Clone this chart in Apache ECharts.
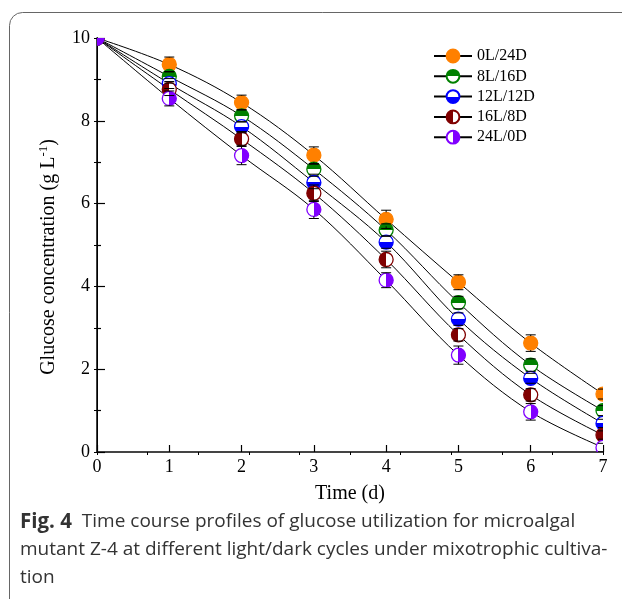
<!DOCTYPE html>
<html>
<head>
<meta charset="utf-8">
<script src="https://cdn.jsdelivr.net/npm/echarts@6/dist/echarts.min.js"></script>
<style>
  html, body { margin: 0; padding: 0; background: #fff; }
  #chart { width: 622px; height: 599px; }
</style>
</head>
<body>
<div id="chart"></div>
<script>
// time in days
const days = [0, 1, 2, 3, 4, 5, 6, 7];

// glucose (g/L), one array per light/dark cycle
const g0L24D  = [10, 9.36, 8.44, 7.17, 5.62, 4.10, 2.63, 1.40];
const g8L16D  = [10, 9.07, 8.12, 6.83, 5.36, 3.61, 2.10, 1.00];
const g12L12D = [10, 8.90, 7.86, 6.51, 5.07, 3.21, 1.78, 0.69];
const g16L8D  = [10, 8.76, 7.56, 6.25, 4.65, 2.83, 1.38, 0.41];
const g24L0D  = [10, 8.54, 7.16, 5.86, 4.15, 2.34, 0.97, 0.11];

// error bar half-widths
const e0L24D  = [0, 0.18, 0.18, 0.20, 0.22, 0.18, 0.20, 0.12];
const e8L16D  = [0, 0.12, 0.15, 0.12, 0.15, 0.15, 0.15, 0.12];
const e12L12D = [0, 0.12, 0.12, 0.15, 0.15, 0.15, 0.12, 0.10];
const e16L8D  = [0, 0.15, 0.15, 0.20, 0.20, 0.15, 0.15, 0.10];
const e24L0D  = [0, 0.18, 0.22, 0.22, 0.18, 0.22, 0.20, 0.10];

const names = ["0L/24D", "8L/16D", "12L/12D", "16L/8D", "24L/0D"];
const xTicks = [0, 1, 2, 3, 4, 5, 6, 7];
const yTicks = [0, 2, 4, 6, 8, 10];

const values = [g0L24D, g8L16D, g12L12D, g16L8D, g24L0D];
const errors = [e0L24D, e8L16D, e12L12D, e16L8D, e24L0D];
const colors = ["#ff8000", "#008000", "#0000ff", "#800000", "#8000ff"];
// which half is filled: full, top, bottom, left, right
const halves = ["full", "top", "bottom", "left", "right"];

const serif = "Liberation Serif";

function markerFill(color, half) {
  if (half === "full") return color;
  const dir = {
    top: [0, 0, 0, 1], bottom: [0, 1, 0, 0],
    left: [0, 0, 1, 0], right: [1, 0, 0, 0],
  }[half];
  return new echarts.graphic.LinearGradient(dir[0], dir[1], dir[2], dir[3], [
    { offset: 0, color: color },
    { offset: 0.5, color: color },
    { offset: 0.5, color: "#fff" },
    { offset: 1, color: "#fff" },
  ]);
}

const R = 7;

const series = [];

// fitted curves (also give the legend its icons)
values.forEach((vals, i) => {
  series.push({
    name: names[i],
    type: "line",
    data: days.map((d, k) => [d, vals[k]]),
    smooth: 0.35,
    showSymbol: false,
    symbol: "circle",
    symbolSize: 14,
    silent: true,
    z: 2,
    lineStyle: { color: "#000", width: 1 },
    itemStyle: { color: markerFill(colors[i], halves[i]), borderColor: colors[i], borderWidth: 1.3 },
  });
});

// markers, clipped at the frame
values.forEach((vals, i) => {
  series.push({
    type: "custom",
    clip: true,
    silent: true,
    z: 3,
    data: days.map((d, k) => [d, vals[k]]),
    renderItem(params, api) {
      const p = api.coord([api.value(0), api.value(1)]);
      return {
        type: "circle",
        shape: { cx: p[0], cy: p[1], r: R },
        style: { fill: markerFill(colors[i], halves[i]), stroke: colors[i], lineWidth: 1.3 },
      };
    },
  });
});

// error bars on top of the markers
values.forEach((vals, i) => {
  series.push({
    type: "custom",
    clip: true,
    silent: true,
    z: 4,
    data: days.map((d, k) => [d, vals[k], errors[i][k]]),
    renderItem(params, api) {
      const x = api.value(0), y = api.value(1), e = api.value(2);
      if (!e) return null;
      const c = api.coord([x, y]);
      const hi = api.coord([x, y + e]);
      const lo = api.coord([x, y - e]);
      const s = { stroke: "#000", lineWidth: 1 };
      const kids = [
        { type: "line", shape: { x1: c[0] - 5, y1: hi[1], x2: c[0] + 5, y2: hi[1] }, style: s },
        { type: "line", shape: { x1: c[0] - 5, y1: lo[1], x2: c[0] + 5, y2: lo[1] }, style: s },
      ];
      if (c[1] - hi[1] > R) kids.push({ type: "line", shape: { x1: c[0], y1: hi[1], x2: c[0], y2: c[1] - R }, style: s });
      if (lo[1] - c[1] > R) kids.push({ type: "line", shape: { x1: c[0], y1: c[1] + R, x2: c[0], y2: lo[1] }, style: s });
      return { type: "group", children: kids };
    },
  });
});

const chart = echarts.init(document.getElementById("chart"), null, { renderer: "canvas" });

chart.setOption({
  animation: false,
  backgroundColor: "#fff",
  grid: { left: 97, right: 19, top: 38, bottom: 147 },
  legend: {
    data: names,
    orient: "vertical",
    left: 433,
    top: 48,
    padding: 0,
    itemWidth: 38,
    itemHeight: 16,
    itemGap: 4.3,
    textStyle: { fontFamily: serif, fontSize: 16, color: "#000" },
  },
  xAxis: [
    {
      type: "value",
      min: xTicks[0],
      max: xTicks[xTicks.length - 1],
      interval: 1,
      name: "Time (d)",
      nameLocation: "middle",
      nameGap: 32,
      nameTextStyle: { fontFamily: serif, fontSize: 20, color: "#000" },
      axisLine: { lineStyle: { color: "#000", width: 1.5 } },
      axisTick: { inside: true, length: 7, lineStyle: { color: "#000", width: 1.2 } },
      minorTick: { show: false },
      axisLabel: { fontFamily: serif, fontSize: 18, color: "#000", margin: 6 },
      splitLine: { show: false },
    },
    {
      type: "value",
      position: "top",
      min: 0,
      max: 7,
      interval: 0.7,
      axisLine: { lineStyle: { color: "#444", width: 2 } },
      axisTick: { inside: true, length: 3, lineStyle: { color: "#000" } },
      minorTick: { show: false },
      axisLabel: { show: false },
      splitLine: { show: false },
    },
  ],
  yAxis: [
    {
      type: "value",
      min: yTicks[0],
      max: yTicks[yTicks.length - 1],
      interval: 2,
      name: "{a|Glucose concentration (g L}{s|-1}{a|)}",
      nameLocation: "middle",
      nameGap: 37,
      nameTextStyle: {
        fontFamily: serif, fontSize: 20, color: "#000",
        padding: [0, 24, 0, 0],
        rich: {
          a: { fontFamily: serif, fontSize: 20, color: "#000" },
          s: { fontFamily: serif, fontSize: 13, color: "#000", padding: [0, 0, 10, 0] },
        },
      },
      axisLine: { lineStyle: { color: "#000", width: 1.5 } },
      axisTick: { inside: true, length: 8, lineStyle: { color: "#000", width: 1.2 } },
      minorTick: { show: true, splitNumber: 2, length: 4, lineStyle: { color: "#000", width: 1.2 } },
      axisLabel: { fontFamily: serif, fontSize: 18, color: "#000", margin: 7 },
      splitLine: { show: false },
      minorSplitLine: { show: false },
    },
    {
      type: "value",
      position: "right",
      min: 0,
      max: 10,
      interval: 1,
      axisLine: { lineStyle: { color: "#000", width: 1 } },
      axisTick: { inside: true, length: 3, lineStyle: { color: "#000" } },
      axisLabel: { show: false },
      splitLine: { show: false },
    },
  ],
  graphic: [
    {
      type: "rect",
      silent: true,
      shape: { x: 9.5, y: 12.5, width: 700, height: 640, r: 13 },
      style: { fill: "none", stroke: "#666", lineWidth: 1 },
    },
    {
      type: "text",
      silent: true,
      left: 20,
      top: 508,
      style: {
        text: "{b|Fig. 4}  Time course profiles of glucose utilization for microalgal\nmutant Z-4 at different light/dark cycles under mixotrophic cultiva-\ntion",
        fontFamily: "Open Sans",
        fontSize: 19,
        lineHeight: 28,
        fill: "#333",
        rich: {
          b: { fontFamily: "Open Sans", fontSize: 20.5, fontWeight: "bold", fill: "#333", lineHeight: 28 },
        },
      },
    },
  ],
  series: series,
});
</script>
</body>
</html>
